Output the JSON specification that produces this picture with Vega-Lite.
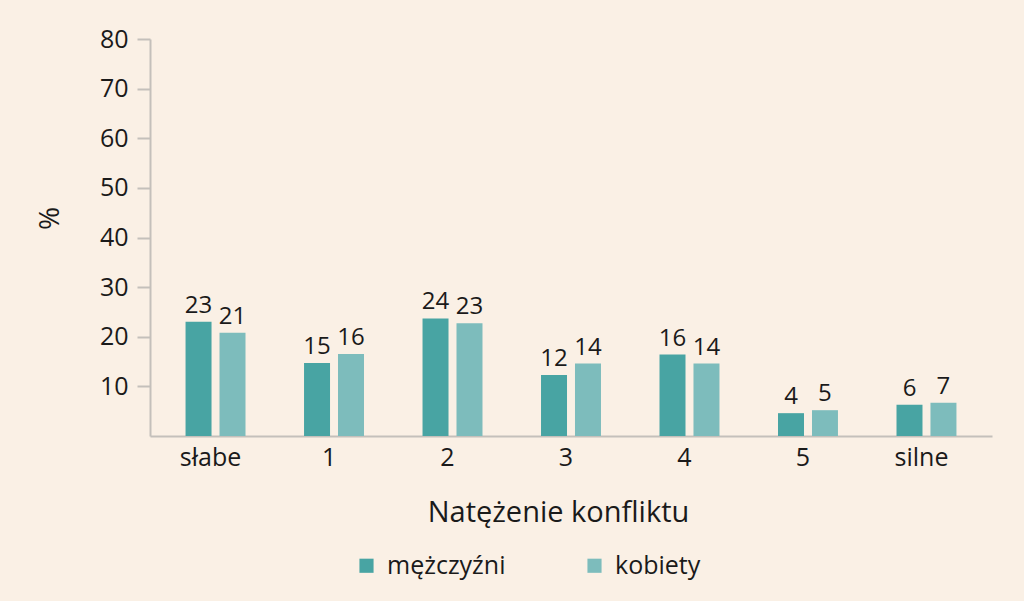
{
  "$schema": "https://vega.github.io/schema/vega-lite/v6.json",
  "width": 842,
  "height": 397,
  "autosize": {"type": "none"},
  "padding": {"left": 150, "top": 39, "right": 32, "bottom": 165},
  "background": "#faf0e5",
  "config": {
    "view": {"stroke": null},
    "font": "Open Sans",
    "axis": {"domainColor": "#c4c0bb", "tickColor": "#c4c0bb", "domainWidth": 2, "tickWidth": 2, "labelColor": "#1a1a1a", "titleColor": "#1a1a1a", "labelFont": "Open Sans", "titleFont": "Open Sans", "titleFontWeight": "normal", "grid": false}
  },
  "data": {
    "values": [
      {"kat": "słabe", "plec": "mężczyźni", "v": 23.0, "label": "23"},
      {"kat": "słabe", "plec": "kobiety", "v": 20.8, "label": "21"},
      {"kat": "1", "plec": "mężczyźni", "v": 14.7, "label": "15"},
      {"kat": "1", "plec": "kobiety", "v": 16.5, "label": "16"},
      {"kat": "2", "plec": "mężczyźni", "v": 23.7, "label": "24"},
      {"kat": "2", "plec": "kobiety", "v": 22.7, "label": "23"},
      {"kat": "3", "plec": "mężczyźni", "v": 12.3, "label": "12"},
      {"kat": "3", "plec": "kobiety", "v": 14.6, "label": "14"},
      {"kat": "4", "plec": "mężczyźni", "v": 16.4, "label": "16"},
      {"kat": "4", "plec": "kobiety", "v": 14.6, "label": "14"},
      {"kat": "5", "plec": "mężczyźni", "v": 4.6, "label": "4"},
      {"kat": "5", "plec": "kobiety", "v": 5.2, "label": "5"},
      {"kat": "silne", "plec": "mężczyźni", "v": 6.3, "label": "6"},
      {"kat": "silne", "plec": "kobiety", "v": 6.7, "label": "7"}
    ]
  },
  "encoding": {
    "x": {
      "field": "kat", "type": "nominal",
      "sort": ["słabe", "1", "2", "3", "4", "5", "silne"],
      "scale": {"paddingInner": 0.494, "paddingOuter": 0.3},
      "axis": {"labelAngle": 0, "ticks": false, "labelFontSize": 25, "labelPadding": 9, "labelOffset": -5, "title": "Natężenie konfliktu", "titleFontSize": 29, "titleX": 408, "titleY": 85, "titleBaseline": "alphabetic"}
    },
    "xOffset": {"field": "plec", "sort": ["mężczyźni", "kobiety"], "scale": {"paddingInner": 0.235, "paddingOuter": 0}},
    "y": {
      "field": "v", "type": "quantitative",
      "scale": {"domain": [0, 80], "nice": false},
      "axis": {"values": [10, 20, 30, 40, 50, 60, 70, 80], "tickSize": 13, "labelFontSize": 25, "labelPadding": 9, "title": "%", "titleFontSize": 28, "titleAngle": -90, "titleX": -100, "titleY": 179, "titleAlign": "center", "titleBaseline": "middle"}
    }
  },
  "layer": [
    {
      "mark": {"type": "bar"},
      "encoding": {
        "color": {
          "field": "plec", "type": "nominal",
          "sort": ["mężczyźni", "kobiety"],
          "scale": {"domain": ["mężczyźni", "kobiety"], "range": ["#48a4a3", "#7dbcbc"]},
          "legend": {"title": null, "orient": "none", "direction": "horizontal", "legendX": 204, "legendY": 514, "symbolType": "square", "symbolSize": 200, "symbolStrokeWidth": 0, "labelFontSize": 25, "labelColor": "#1a1a1a", "columnPadding": 76, "labelOffset": 8}
        }
      }
    },
    {
      "mark": {"type": "text", "baseline": "bottom", "dy": -4, "fontSize": 24, "color": "#1a1a1a"},
      "encoding": {"text": {"field": "label"}}
    }
  ]
}
